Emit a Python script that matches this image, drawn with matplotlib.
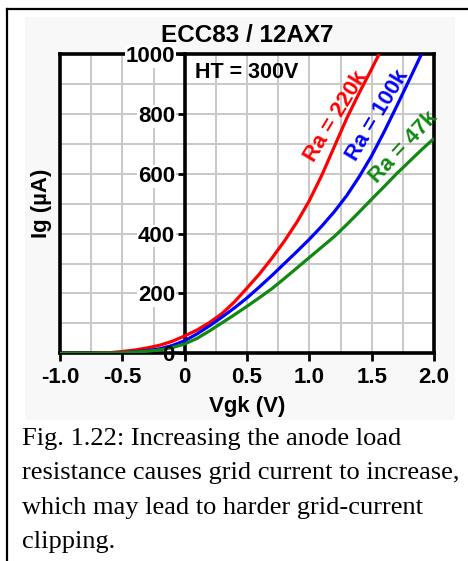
import numpy as np
import matplotlib
matplotlib.use("Agg")
import matplotlib.pyplot as plt
from matplotlib.lines import Line2D
from matplotlib.patches import Rectangle

# Grid current Ig (uA) against grid-cathode voltage Vgk (V), ECC83 at HT = 300 V
vgk_220k = [-0.7, -0.6, -0.5, -0.4, -0.3, -0.2, -0.1, 0.0, 0.1, 0.2, 0.3, 0.4,
            0.5, 0.6, 0.7, 0.8, 0.9, 1.0, 1.1, 1.2, 1.3, 1.4, 1.5, 1.56]
ig_220k = [0, 2, 6, 11, 18, 27, 40, 58, 78, 103, 133, 172,
           218, 265, 318, 375, 438, 510, 595, 690, 785, 870, 950, 1000]

vgk_100k = [-0.6, -0.5, -0.4, -0.3, -0.2, -0.1, 0.0, 0.1, 0.2, 0.3, 0.4, 0.5,
            0.6, 0.7, 0.8, 0.9, 1.0, 1.1, 1.2, 1.3, 1.4, 1.5, 1.6, 1.7, 1.8, 1.9]
ig_100k = [0, 2, 5, 9, 15, 26, 42, 65, 92, 121, 152, 185,
           222, 260, 300, 340, 381, 425, 473, 527, 590, 660, 740, 825, 912, 1000]

vgk_47k = [-1.0, -0.8, -0.6, -0.5, -0.4, -0.3, -0.2, -0.1, 0.0, 0.1, 0.2, 0.3,
           0.4, 0.5, 0.6, 0.7, 0.8, 0.9, 1.0, 1.1, 1.2, 1.3, 1.4, 1.5, 1.6,
           1.7, 1.8, 1.9, 2.0]
ig_47k = [0, 0, 1, 2, 4, 7, 11, 19, 31, 50, 75, 102,
          129, 157, 186, 216, 250, 285, 320, 355, 390, 430, 472, 515, 557,
          600, 640, 680, 718]

series_labels = ["Ra = 220k", "Ra = 100k", "Ra = 47k"]
series_colors = ["#ff0000", "#0000ff", "#118811"]

x_ticks = [-1.0, -0.5, 0.0, 0.5, 1.0, 1.5, 2.0]
x_tick_labels = ["-1.0", "-0.5", "0", "0.5", "1.0", "1.5", "2.0"]
y_ticks = [0, 200, 400, 600, 800, 1000]
y_tick_labels = ["0", "200", "400", "600", "800", "1000"]

title = "ECC83 / 12AX7"
note = "HT = 300V"
x_label = "Vgk (V)"
y_label = "Ig (\u00b5A)"
caption_lines = [
    "Fig. 1.22: Increasing the anode load",
    "resistance causes grid current to increase,",
    "which may lead to harder grid-current",
    "clipping.",
]

W, H = 468, 561
SANS = ["Liberation Sans", "DejaVu Sans"]
SERIF = ["Liberation Serif", "DejaVu Serif"]


def fx(px):
    return px / W


def fy(py):
    return 1 - py / H


fig = plt.figure(figsize=(W / 100, H / 100), dpi=100)
fig.patch.set_facecolor("white")

# faint panel behind the chart and the page frame
fig.add_artist(Rectangle((fx(25), fy(420)), fx(455) - fx(25), fy(17) - fy(420),
                         transform=fig.transFigure, facecolor="#f8f8f8",
                         edgecolor="none", zorder=0))
fig.add_artist(Line2D([fx(7.5), fx(7.5)], [fy(9), 0], transform=fig.transFigure,
                      color="black", lw=1.6, zorder=1))
fig.add_artist(Line2D([fx(7.5), 1], [fy(9), fy(9)], transform=fig.transFigure,
                      color="black", lw=1.6, zorder=1))

ax = fig.add_axes([fx(60), fy(353.3), (434 - 60) / W, (353.3 - 54) / H])
ax.set_facecolor("white")
ax.set_xlim(-1, 2)
ax.set_ylim(0, 1000)

# light grid every 0.25 V and every 100 uA
for v in np.arange(-1.0, 2.001, 0.25):
    ax.axvline(v, color="#c8c8c8", lw=1.4, zorder=0.5)
for i in np.arange(0, 1001, 100):
    ax.axhline(i, color="#c8c8c8", lw=1.4, zorder=0.5)

curves = [(vgk_220k, ig_220k), (vgk_100k, ig_100k), (vgk_47k, ig_47k)]
for (xs, ys), c in zip(curves, series_colors):
    ax.plot(xs, ys, color=c, lw=2.3, zorder=3, solid_capstyle="butt",
            solid_joinstyle="round")

# box plus the vertical axis through Vgk = 0
for s in ax.spines.values():
    s.set_linewidth(2.6)
    s.set_color("black")
ax.spines["left"].set_position(("data", 0))
ax.axvline(-1.0, color="black", lw=2.6, zorder=2.5, clip_on=False)

ax.set_xticks(x_ticks)
ax.set_xticklabels(x_tick_labels)
ax.set_yticks(y_ticks)
ax.set_yticklabels(y_tick_labels)
ax.tick_params(axis="x", direction="out", length=6, width=2, pad=4)
ax.tick_params(axis="y", direction="out", length=5, width=2, pad=2)
ax.xaxis.set_zorder(4)
ax.yaxis.set_zorder(4)
for lbl in ax.get_xticklabels() + ax.get_yticklabels():
    lbl.set_fontfamily(SANS)
    lbl.set_fontweight("bold")
    lbl.set_fontsize(16)
for lbl in ax.get_yticklabels()[1:]:
    lbl.set_bbox(dict(facecolor="white", edgecolor="none", pad=0.6))

fig.text(fx(247.5), fy(42), title, ha="center", va="baseline",
         family=SANS, fontweight="bold", fontsize=17.5)
fig.text(fx(247), fy(412), x_label, ha="center", va="baseline",
         family=SANS, fontweight="bold", fontsize=16)
fig.text(fx(42), fy(203.5), y_label, ha="center", va="center", rotation=90,
         family=SANS, fontweight="bold", fontsize=16)
ax.text(0.08, 920, note, ha="left", va="baseline", family=SANS,
        fontweight="bold", fontsize=15.5, zorder=5)

label_spots = [(1.21, 790, 58.6), (1.55, 796, 59.0), (1.76, 689, 47.0)]
for txt, c, (lx, ly, rot) in zip(series_labels, series_colors, label_spots):
    ax.text(lx, ly, txt, color=c, rotation=rot, rotation_mode="anchor",
            ha="center", va="center", family=SANS, fontweight="bold",
            fontsize=15.8, zorder=5, clip_on=False)

for k, line in enumerate(caption_lines):
    fig.text(fx(22), fy(445 + 34.4 * k), line, ha="left", va="baseline",
             family=SERIF, fontsize=19)

fig.savefig("out.png", dpi=100)
